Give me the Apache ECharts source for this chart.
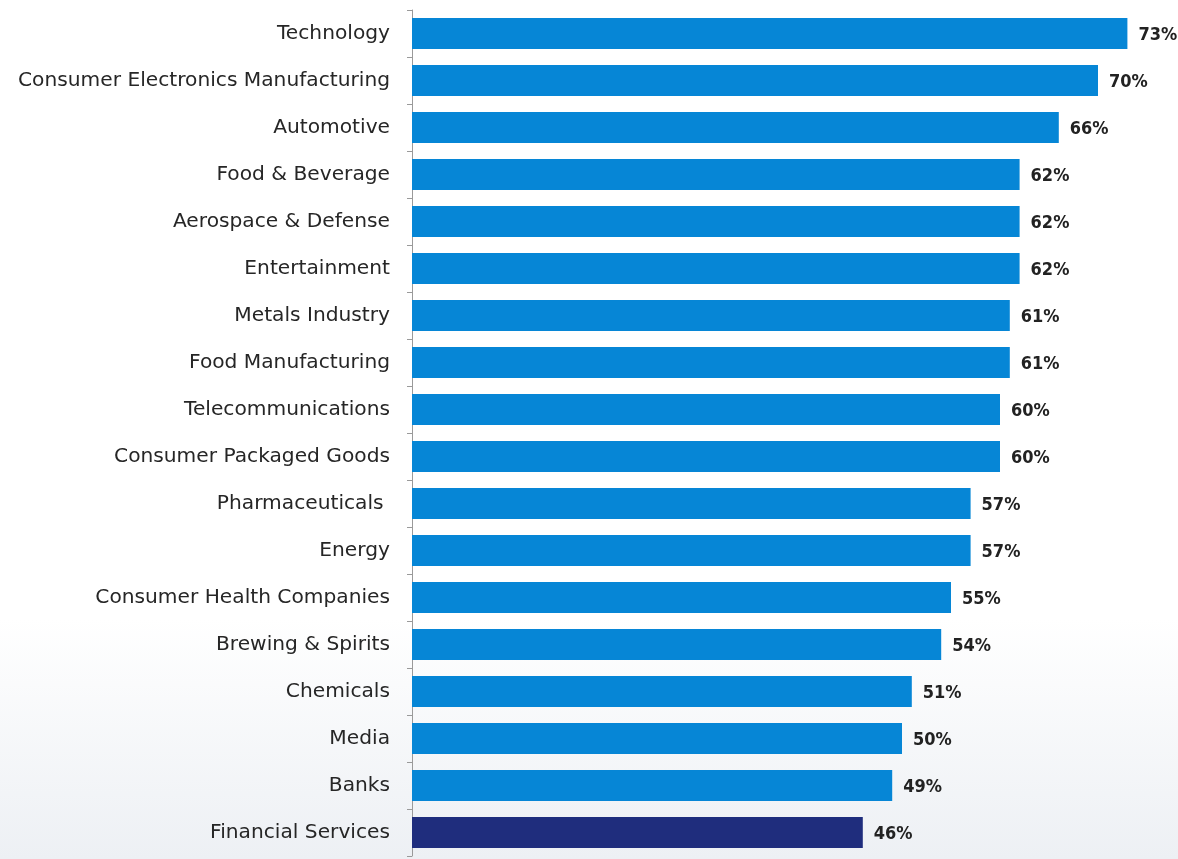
<!DOCTYPE html>
<html><head><meta charset="utf-8">
<script src="https://cdn.jsdelivr.net/npm/echarts@6/dist/echarts.min.js"></script>
<style>html,body{margin:0;padding:0;background:#fff}#c{width:1178px;height:859px}</style>
</head><body><div id="c"></div>
<script>
const categories = ["Technology","Consumer Electronics Manufacturing","Automotive","Food & Beverage","Aerospace & Defense","Entertainment","Metals Industry","Food Manufacturing","Telecommunications","Consumer Packaged Goods","Pharmaceuticals ","Energy","Consumer Health Companies","Brewing & Spirits","Chemicals","Media","Banks","Financial Services"];
const values = [73,70,66,62,62,62,61,61,60,60,57,57,55,54,51,50,49,46];
const highlight = "Financial Services";

const chart = echarts.init(document.getElementById('c'), null, {renderer:'canvas'});
chart.setOption({
  animation:false,
  backgroundColor:{type:'linear',x:0,y:0,x2:0,y2:1,colorStops:[{offset:0,color:'#ffffff'},{offset:0.72,color:'#ffffff'},{offset:1,color:'#edf0f4'}]},
  grid:{left:412,right:31,top:10,bottom:3,containLabel:false},
  xAxis:{type:'value',min:0,max:75,show:false},
  yAxis:{type:'category',data:categories,inverse:true,
    axisLine:{show:true,lineStyle:{color:'#9a9a9a',width:1}},
    axisTick:{show:true,length:5,lineStyle:{color:'#9a9a9a'}},
    axisLabel:{color:'#262626',fontSize:20.2,fontFamily:"'DejaVu Sans', sans-serif",margin:22}
  },
  series:[{type:'bar',barCategoryGap:'34%',
    data:values.map((v,i)=>({value:v,itemStyle:{color:categories[i]===highlight?'#1f2d7d':'#0686d6'}})),
    label:{show:true,position:'right',distance:11,offset:[0,2],formatter:p=>p.value+'%',color:'#222',fontSize:18,fontWeight:'bold',fontFamily:"'DejaVu Sans Condensed', 'Liberation Sans Narrow', sans-serif"}
  }]
});
</script></body></html>
